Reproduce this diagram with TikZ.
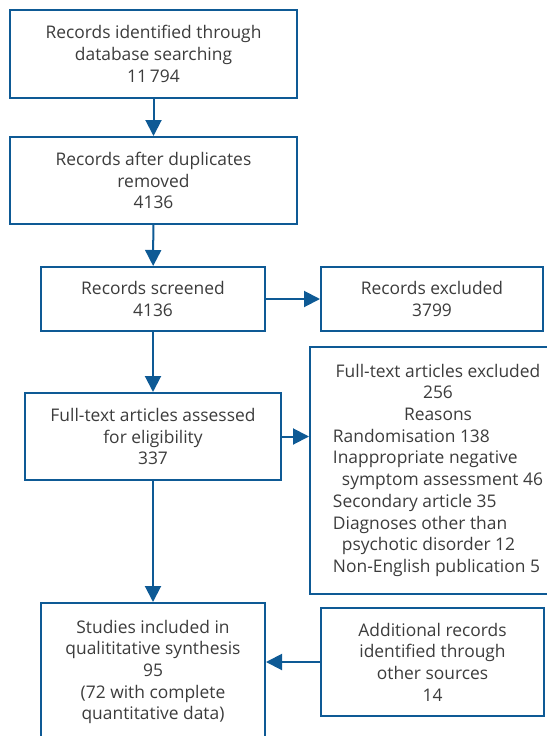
\documentclass[tikz,border=0pt]{standalone}
\usepackage{fontspec}
\setmainfont{Open Sans}
\usetikzlibrary{arrows.meta}
\definecolor{lineblue}{HTML}{0E5A95}
\definecolor{txtgray}{HTML}{3C3C3C}
\begin{document}
\begin{tikzpicture}[x=1pt,y=1pt,
  box/.style={draw=lineblue, line width=2pt, inner sep=0pt, align=center,
    text=txtgray, font=\fontsize{17.4}{21.7}\selectfont},
  conn/.style={draw=lineblue, line width=2pt, -{Triangle[length=16pt,width=16pt]}}]
\useasboundingbox (0,0) rectangle (546,-736);
\node[box, minimum width=287pt, minimum height=88pt] (b1) at (153.5,-54)
  {Records identified through\\database searching\\11\,794};
\node[box, minimum width=287pt, minimum height=87pt] (b2) at (153.5,-180.5)
  {Records after duplicates\\removed\\4136};
\node[box, minimum width=224pt, minimum height=64pt] (scr) at (153,-299)
  {Records screened\\4136};
\node[box, minimum width=222pt, minimum height=64pt] (exc) at (432,-299)
  {Records excluded\\3799};
\node[box, minimum width=256pt, minimum height=87pt] (ass) at (153,-436.5)
  {Full-text articles assessed\\for eligibility\\337};
\node[box, minimum width=256pt, minimum height=247pt] (ftx) at (438,-470.5)
  {\raisebox{-3pt}{\begin{tabular}{@{}l@{}}
   \multicolumn{1}{@{}c@{}}{Full-text articles excluded}\\
   \multicolumn{1}{@{}c@{}}{256}\\
   \multicolumn{1}{@{}c@{}}{Reasons}\\
   Randomisation 138\\
   Inappropriate negative\\
   \hspace{9pt}symptom assessment 46\\
   Secondary article 35\\
   Diagnoses other than\\
   \hspace{9pt}psychotic disorder 12\\
   Non-English publication 5
   \end{tabular}}};
\node[box, minimum width=224pt, minimum height=138pt] (stu) at (153,-672)
  {Studies included in\\qualititative synthesis\\95\\(72 with complete\\quantitative data)};
\node[box, minimum width=223pt, minimum height=108pt] (add) at (432.5,-662)
  {Additional records\\identified through\\other sources\\14};
\draw[conn] (b1) -- (b2);
\draw[conn] (b2) -- (scr);
\draw[conn] (scr) -- (exc);
\draw[conn] (scr) -- (ass);
\draw[conn] (ass.east) -- (ass.east -| ftx.west);
\draw[conn] (ass) -- (stu);
\draw[conn] (add.west) -- (add.west -| stu.east);
\end{tikzpicture}
\end{document}
